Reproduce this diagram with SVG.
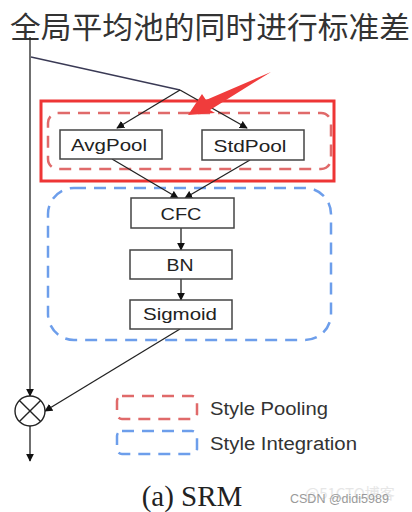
<svg xmlns="http://www.w3.org/2000/svg" width="412" height="512" viewBox="0 0 412 512">
<defs>
<marker id="ah" viewBox="0 0 10 10" refX="9" refY="5" markerWidth="8" markerHeight="8" markerUnits="userSpaceOnUse" orient="auto">
<path d="M0,0 L10,5 L0,10 z" fill="#111"/>
</marker>
<style>
.box{fill:#fff;stroke:#444;stroke-width:1.5}
.lbl{font-family:"Liberation Sans",Arial,sans-serif;font-size:17px;fill:#222;text-anchor:middle}
.ln{fill:none;stroke:#222;stroke-width:1.3}
.red{fill:none;stroke:#e06a6a;stroke-width:2.5;stroke-dasharray:12 8}
.blue{fill:none;stroke:#6d9eeb;stroke-width:2.5;stroke-dasharray:12 8}
.leg{font-family:"Liberation Sans",Arial,sans-serif;font-size:18px;fill:#333}
</style>
</defs>
<rect width="412" height="512" fill="#fff"/>
<text x="10" y="38" font-family="'Noto Sans CJK SC',sans-serif" font-size="30" fill="#333" textLength="400" lengthAdjust="spacingAndGlyphs">全局平均池的同时进行标准差</text>

<g id="groups">
<rect x="48" y="113" width="283" height="56" rx="10" class="red"/>
<rect x="48" y="188" width="283" height="152" rx="26" class="blue"/>
<rect x="41" y="101" width="293" height="80" fill="none" stroke="#ee3535" stroke-width="3"/>
</g>

<g id="connectors">
<line x1="30" y1="37" x2="30" y2="396" class="ln" marker-end="url(#ah)"/>
<polyline points="31,57 180,90" fill="none" stroke="#3a3a55" stroke-width="1.3"/>
<line x1="180" y1="90" x2="117" y2="128" class="ln" marker-end="url(#ah)"/>
<line x1="180" y1="90" x2="247" y2="128" class="ln" marker-end="url(#ah)"/>
<line x1="112" y1="159" x2="178" y2="198" class="ln" marker-end="url(#ah)"/>
<line x1="250" y1="160" x2="185" y2="198" class="ln" marker-end="url(#ah)"/>
<line x1="181" y1="228" x2="181" y2="250" class="ln" marker-end="url(#ah)"/>
<line x1="181" y1="279" x2="181" y2="300" class="ln" marker-end="url(#ah)"/>
<line x1="180" y1="329" x2="45" y2="411" class="ln" marker-end="url(#ah)"/>
<line x1="30" y1="426" x2="30" y2="461" class="ln" marker-end="url(#ah)"/>
</g>

<g id="avgpool"><rect x="60" y="130" width="102" height="29" class="box"/><text x="109" y="151" class="lbl" textLength="76" lengthAdjust="spacingAndGlyphs">AvgPool</text></g>
<g id="stdpool"><rect x="202" y="130" width="102" height="30" class="box"/><text x="250" y="151.5" class="lbl" textLength="73" lengthAdjust="spacingAndGlyphs">StdPool</text></g>
<g id="cfc"><rect x="131" y="198" width="103" height="30" class="box"/><text x="181" y="219.5" class="lbl" textLength="41" lengthAdjust="spacingAndGlyphs">CFC</text></g>
<g id="bn"><rect x="130" y="250" width="102" height="29" class="box"/><text x="180" y="271" class="lbl" textLength="27" lengthAdjust="spacingAndGlyphs">BN</text></g>
<g id="sigmoid"><rect x="130" y="300" width="102" height="29" class="box"/><text x="180" y="320" class="lbl" textLength="74" lengthAdjust="spacingAndGlyphs">Sigmoid</text></g>

<g id="mult">
<circle cx="30" cy="411" r="15" fill="#fff" stroke="#222" stroke-width="1.4"/>
<line x1="19.4" y1="400.4" x2="40.6" y2="421.6" stroke="#222" stroke-width="1.4"/>
<line x1="40.6" y1="400.4" x2="19.4" y2="421.6" stroke="#222" stroke-width="1.4"/>
</g>

<g id="pointer">
<polygon points="188,115 202,94 206,100 271,72 210,110 215,113" fill="#f03c3c"/>
</g>

<g id="legend">
<rect x="117" y="396" width="80" height="23" rx="5" class="red"/>
<text x="210" y="415" class="leg" textLength="118" lengthAdjust="spacingAndGlyphs">Style Pooling</text>
<rect x="117" y="431" width="80" height="23" rx="5" class="blue"/>
<text x="210" y="450" class="leg" textLength="147" lengthAdjust="spacingAndGlyphs">Style Integration</text>
</g>

<text x="192" y="506" font-family="'Liberation Serif','Times New Roman',serif" font-size="29" fill="#222" text-anchor="middle">(a) SRM</text>
<text x="305" y="499" font-family="'Noto Sans CJK SC',sans-serif" font-size="15" fill="#e6e6e6">@51CTO博客</text>
<text x="290" y="503" font-family="'Liberation Sans',Arial,sans-serif" font-size="12.5" fill="#9a9a9a">CSDN @didi5989</text>
</svg>
